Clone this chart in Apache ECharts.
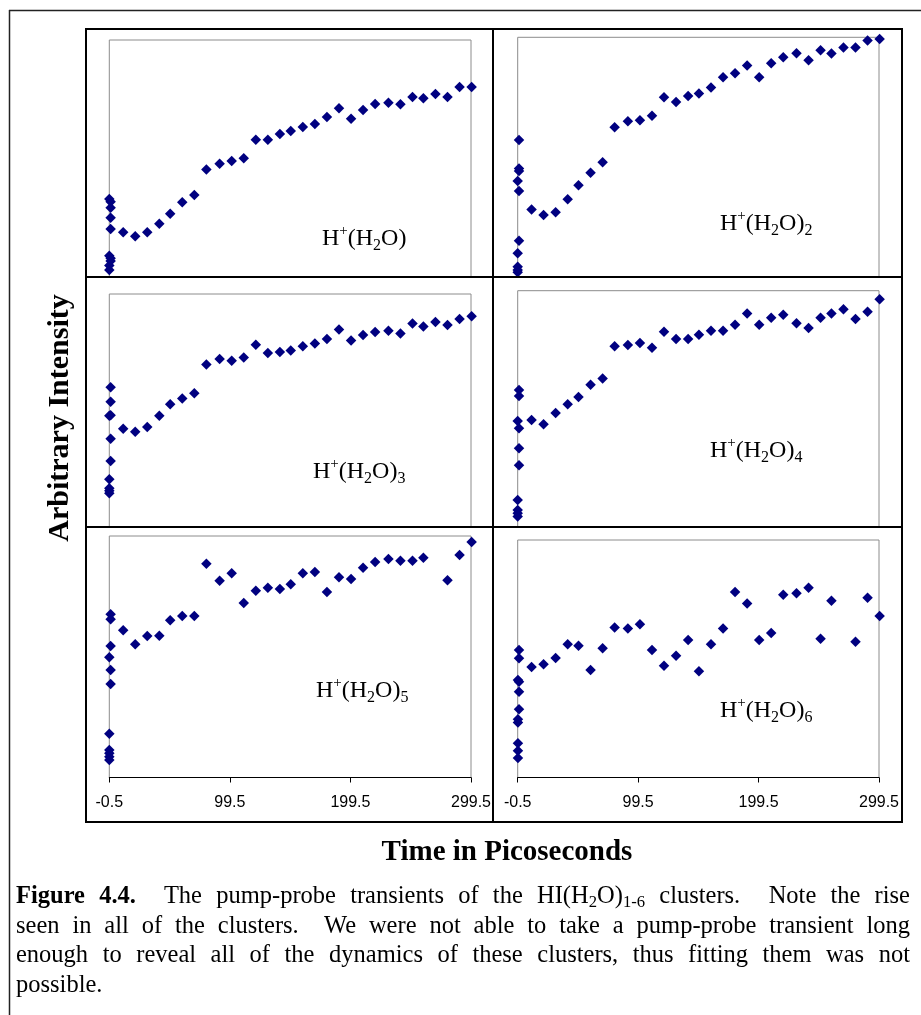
<!DOCTYPE html>
<html>
<head>
<meta charset="utf-8">
<script src="https://cdn.jsdelivr.net/npm/echarts@6/dist/echarts.min.js"></script>
<style>
html, body { margin: 0; padding: 0; background: #fff; }
#chart { position: absolute; left: 0; top: 0; width: 921px; height: 1015px; }
#caption { position: absolute; left: 16px; top: 880px; width: 894px;
  font-family: 'Liberation Serif', 'Times New Roman', serif; font-size: 24.5px; line-height: 29.5px; color: #000; }
#caption .j { text-align: justify; text-align-last: justify; }
#caption sub { font-size: 0.68em; vertical-align: -0.22em; line-height: 0; }
</style>
</head>
<body>
<div id="chart"></div>
<div id="caption">
  <div class="j"><b>Figure 4.4.</b>&nbsp; The pump-probe transients of the HI(H<sub>2</sub>O)<sub>1-6</sub> clusters.&nbsp; Note the rise</div>
  <div class="j">seen in all of the clusters.&nbsp; We were not able to take a pump-probe transient long</div>
  <div class="j">enough to reveal all of the dynamics of these clusters, thus fitting them was not</div>
  <div>possible.</div>
</div>
<script>
// ---------------- data ----------------
const xTicks = [-0.5, 99.5, 199.5, 299.5];
const delayTimes = [11, 21, 31, 41, 50, 60, 70, 80, 91, 101, 111, 121, 131, 141, 150,
  160, 170, 180, 190, 200, 210, 220, 231, 241, 251, 260, 270, 280, 290, 300];

const n1ZeroTimes = [-0.5, -0.5, 0.6, 0.6, -0.5, 0.6, 0.6, 0.6, 0.6, -0.5];
const n1ZeroValues = [3.0, 4.8, 6.8, 7.9, 9.0, 20.3, 25.0, 29.2, 31.8, 32.9];
const n1Values = [18.9, 17.2, 18.9, 22.5, 26.7, 31.5, 34.6, 45.4, 47.8, 48.9, 50.1, 57.9, 57.9, 60.3, 61.6,
  63.3, 64.6, 67.5, 71.2, 66.8, 70.5, 73.0, 73.5, 72.9, 75.9, 75.4, 77.2, 75.9, 80.2, 80.2];

const n2ZeroTimes = [-0.5, -0.5, -0.5, -0.5, 0.6, -0.5, 0.6, 0.6, 0.6, 0.6];
const n2ZeroValues = [2.0, 2.9, 4.3, 9.9, 15.1, 40.0, 35.9, 44.2, 45.3, 57.2];
const n2Values = [28.2, 25.9, 27.0, 32.4, 38.3, 43.5, 47.9, 62.5, 65.0, 65.4, 67.3, 75.0, 73.0, 75.5, 76.6,
  79.1, 83.3, 85.0, 88.2, 83.3, 89.2, 91.7, 93.3, 90.4, 94.6, 93.2, 95.7, 95.7, 98.7, 99.3];

const n3ZeroTimes = [-0.5, -0.5, -0.5, -0.5, 0.6, 0.6, -0.5, 0.6, 0.6, 0.6];
const n3ZeroValues = [14.5, 15.6, 16.6, 20.5, 28.3, 37.9, 47.8, 48.0, 53.8, 60.0];
const n3Values = [42.2, 40.9, 42.9, 47.8, 52.7, 55.1, 57.4, 69.7, 72.1, 71.4, 72.7, 78.2, 74.7, 75.1, 75.7,
  77.6, 78.8, 80.7, 84.8, 80.0, 82.4, 83.7, 84.2, 83.1, 87.3, 86.0, 88.0, 86.7, 89.3, 90.4];

const n4ZeroTimes = [-0.5, -0.5, -0.5, -0.5, 0.6, 0.6, 0.6, -0.5, 0.6, 0.6];
const n4ZeroValues = [4.4, 5.8, 7.2, 11.4, 26.1, 33.3, 41.8, 44.9, 55.4, 58.0];
const n4Values = [45.3, 43.5, 48.2, 51.9, 55.0, 60.2, 62.8, 76.5, 77.0, 77.9, 75.9, 82.6, 79.6, 79.6, 81.4,
  83.1, 83.1, 85.6, 90.3, 85.6, 88.6, 89.8, 86.2, 84.2, 88.6, 90.3, 92.1, 88.0, 91.1, 96.4];

const n5ZeroTimes = [-0.5, -0.5, -0.5, -0.5, -0.5, 0.6, 0.6, -0.5, 0.6, 0.6, 0.6];
const n5ZeroValues = [7.2, 8.6, 10.0, 11.4, 18.1, 38.7, 44.5, 49.8, 54.5, 65.5, 67.6];
const n5Values = [61.0, 55.2, 58.6, 58.7, 65.1, 66.9, 66.9, 88.5, 81.5, 84.6, 72.3, 77.3, 78.6, 78.1, 80.0,
  84.6, 85.1, 76.8, 82.9, 82.2, 86.9, 89.2, 90.5, 89.8, 89.8, 91.0, null, 81.7, 92.1, 97.5];

const n6ZeroTimes = [-0.3, -0.3, -0.3, -0.3, -0.3, 0.6, 0.6, 0.6, -0.3, 0.6, 0.6];
const n6ZeroValues = [8.2, 11.3, 14.4, 23.2, 24.5, 28.7, 36.1, 40.3, 41.1, 50.2, 53.7];
const n6Values = [46.5, 47.7, 50.3, 56.1, 55.5, 45.3, 54.4, 63.2, 62.7, 64.5, 53.7, 47.1, 51.3, 57.9, 44.7,
  56.1, 62.7, 78.1, 73.3, 57.9, 60.8, 77.0, 77.6, 79.9, 58.4, 74.4, null, 57.2, 75.7, 68.0];

const clusterSizes = ['', '2', '3', '4', '5', '6'];
const xTitle = 'Time in Picoseconds';
const yTitle = 'Arbitrary Intensity';

// ---------------- layout ----------------
const panels = [
  { zt: n1ZeroTimes, zv: n1ZeroValues, v: n1Values },
  { zt: n2ZeroTimes, zv: n2ZeroValues, v: n2Values },
  { zt: n3ZeroTimes, zv: n3ZeroValues, v: n3Values },
  { zt: n4ZeroTimes, zv: n4ZeroValues, v: n4Values },
  { zt: n5ZeroTimes, zv: n5ZeroValues, v: n5Values },
  { zt: n6ZeroTimes, zv: n6ZeroValues, v: n6Values }
];
const gridBoxes = [
  { left: 109.3, top: 40, width: 361.7, height: 237 },
  { left: 517.7, top: 37.3, width: 361.3, height: 239.7 },
  { left: 109.3, top: 294, width: 361.7, height: 233 },
  { left: 517.7, top: 290.7, width: 361.3, height: 236.3 },
  { left: 109.3, top: 536, width: 361.7, height: 241.5 },
  { left: 517.7, top: 540, width: 361.3, height: 237.5 }
];
const labelPos = [[322, 224], [720, 209], [313, 457], [710, 436], [316, 676], [720, 696]];

const SERIF = '"Liberation Serif", "Times New Roman", serif';
const SANS = '"Liberation Sans", Arial, sans-serif';

const grid = gridBoxes.map(b => Object.assign({
  show: true, borderColor: '#8c8c8c', borderWidth: 1, backgroundColor: 'transparent',
  containLabel: false, outerBoundsMode: 'none'
}, b));

const xAxis = gridBoxes.map((b, i) => {
  const bottom = i >= 4;
  return {
    type: 'value', gridIndex: i,
    min: xTicks[0], max: xTicks[xTicks.length - 1], interval: xTicks[1] - xTicks[0],
    splitLine: { show: false },
    axisLine: { show: bottom, onZero: false, lineStyle: { color: '#000', width: 1 } },
    axisTick: { show: bottom, inside: false, length: 5, lineStyle: { color: '#000', width: 1 } },
    axisLabel: { show: bottom, color: '#000', fontFamily: SANS, fontSize: 16, margin: 17,
      showMinLabel: true, showMaxLabel: true }
  };
});
const yAxis = gridBoxes.map((b, i) => ({
  type: 'value', gridIndex: i, min: 0, max: 100, show: false, splitLine: { show: false }
}));

const series = panels.map((p, i) => ({
  type: 'scatter', xAxisIndex: i, yAxisIndex: i,
  symbol: 'diamond', symbolSize: 10.5, clip: false, silent: true,
  itemStyle: { color: '#000080', opacity: 1 },
  data: p.zt.map((t, k) => [t, p.zv[k]])
    .concat(delayTimes.map((t, k) => [t, p.v[k]]).filter(d => d[1] != null))
}));

const richStyle = {
  m: { fontFamily: SERIF, fontSize: 24, lineHeight: 30, fill: '#000', verticalAlign: 'middle' },
  p: { fontFamily: SERIF, fontSize: 15, lineHeight: 25, fill: '#000', verticalAlign: 'top' },
  s: { fontFamily: SERIF, fontSize: 16, lineHeight: 11, fill: '#000', verticalAlign: 'bottom' }
};
const labelGraphics = clusterSizes.map((n, i) => ({
  type: 'text', x: labelPos[i][0], y: labelPos[i][1], z: 20,
  style: {
    text: '{m|H}{p|+}{m|(H}{s|2}{m|O)}' + (n ? '{s|' + n + '}' : ''),
    rich: richStyle, align: 'left', verticalAlign: 'top'
  }
}));

const frameGraphics = [
  { type: 'line', z: 30, shape: { x1: 9, y1: 10.5, x2: 921, y2: 10.5 }, style: { stroke: '#222', lineWidth: 1.5 } },
  { type: 'line', z: 30, shape: { x1: 9.5, y1: 10, x2: 9.5, y2: 1015 }, style: { stroke: '#222', lineWidth: 1.5 } },
  { type: 'rect', z: 30, shape: { x: 86, y: 29, width: 816, height: 793 }, style: { fill: 'none', stroke: '#000', lineWidth: 2 } },
  { type: 'line', z: 30, shape: { x1: 493, y1: 29, x2: 493, y2: 822 }, style: { stroke: '#000', lineWidth: 2 } },
  { type: 'line', z: 30, shape: { x1: 86, y1: 277, x2: 902, y2: 277 }, style: { stroke: '#000', lineWidth: 2 } },
  { type: 'line', z: 30, shape: { x1: 86, y1: 527, x2: 902, y2: 527 }, style: { stroke: '#000', lineWidth: 2 } },
  { type: 'text', z: 30, x: 60, y: 418, rotation: Math.PI / 2,
    style: { text: yTitle, font: 'bold 30px ' + SERIF, fill: '#000', align: 'center', verticalAlign: 'middle' } },
  { type: 'text', z: 30, x: 507, y: 853,
    style: { text: xTitle, font: 'bold 29px ' + SERIF, fill: '#000', align: 'center', verticalAlign: 'middle' } }
];

const chart = echarts.init(document.getElementById('chart'), null, { renderer: 'canvas' });
chart.setOption({
  animation: false,
  backgroundColor: '#fff',
  grid: grid,
  xAxis: xAxis,
  yAxis: yAxis,
  series: series,
  graphic: { elements: frameGraphics.concat(labelGraphics) }
});
</script>
</body>
</html>
